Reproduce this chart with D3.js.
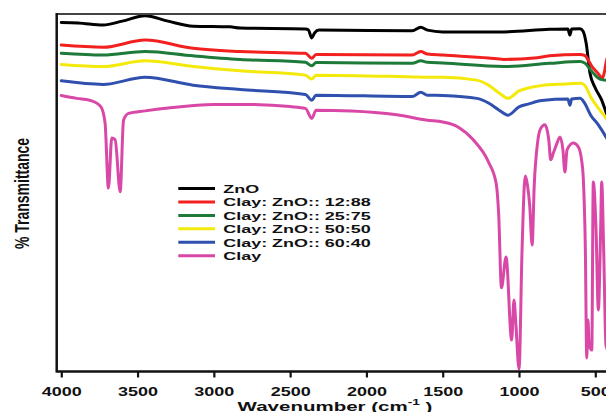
<!DOCTYPE html>
<html>
<head>
<meta charset="utf-8">
<script src="https://cdn.jsdelivr.net/npm/d3@7"></script>
<style>
  html, body { margin: 0; padding: 0; background: #fff; }
  svg { display: block; }
  text { font-family: "Liberation Sans", Arial, sans-serif; font-weight: bold; fill: #111; }
</style>
</head>
<body>
<svg id="chart" width="606" height="412"></svg>
<script>
// ---------- data ----------
const seriesNames = ["ZnO", "Clay: ZnO:: 12:88", "Clay: ZnO:: 25:75", "Clay: ZnO:: 50:50", "Clay: ZnO:: 60:40", "Clay"];
const tickValues = [4000, 3500, 3000, 2500, 2000, 1500, 1000, 500];

const znoWn = [4000,3890,3726,3600,3451,3300,3136,2894,2828,2400,2380,2358,2340,2310,1700,1644,1600,1500,1100,800,680,666,655,600,580,560,535,500,458,430,400];
const znoT  = [97.6,97.5,96.9,98.0,99.5,98.0,96.6,96.4,96.1,95.8,95.5,93.3,94.7,95.5,95.3,96.3,95.5,95.0,95.0,95.7,95.8,94.1,95.8,95.9,95.2,91.9,83.5,79.3,75.9,72.6,69.0];

const c1288Wn = [4000,3726,3451,3136,2828,2400,2358,2330,1700,1644,1600,1500,1200,1100,900,800,600,570,520,470,458,440,430,400];
const c1288T  = [91.3,90.7,92.7,90.4,89.5,89.0,87.6,88.7,88.5,89.5,88.8,88.5,87.7,87.3,87.7,88.3,88.7,88.4,85.2,82.7,81.8,83.8,86.3,89.9];

const c2575Wn = [4000,3726,3451,3136,2828,2400,2358,2330,1700,1644,1600,1500,1100,800,600,570,520,470,430,400];
const c2575T  = [89.0,88.5,89.5,88.3,87.3,86.5,85.5,86.4,86.2,86.9,86.5,86.3,85.3,86.2,86.7,86.3,83.8,81.8,81.5,81.5];

const c5050Wn = [4000,3726,3451,3136,2828,2400,2358,2330,1700,1600,1500,1277,1200,1130,1072,1000,940,850,700,600,570,530,480,430,400];
const c5050T  = [85.9,85.3,86.9,85.3,84.1,82.9,81.8,82.9,82.4,82.3,82.3,81.5,80.1,77.9,76.4,78.5,79.3,80.0,80.4,80.6,80.1,76.8,73.7,70.9,69.0];

const c6040Wn = [4000,3726,3451,3136,2828,2400,2358,2330,1700,1644,1600,1500,1277,1200,1130,1072,1000,940,850,680,666,655,600,570,530,480,430,400];
const c6040T  = [81.3,80.3,82.3,80.1,78.9,77.5,75.9,77.3,76.9,78.1,77.3,77.2,76.4,75.1,73.1,71.7,74.0,74.8,75.8,76.2,74.5,76.2,76.4,75.1,71.7,69.0,65.6,63.3];

const clayWn = [4000,3900,3800,3740,3713,3691,3669,3647,3614,3592,3559,3450,3300,3000,2800,2500,2400,2358,2330,2100,1800,1600,1500,1400,1300,1200,1150,1133,1115,1085,1048,1033,1020,1000,980,965,958,945,930,914,900,880,862,830,805,792,775,755,731,712,699,685,644,611,590,579,565,556,548,540,523,513,495,480,465,458,445,430,400];
const clayT  = [77.2,76.4,75.7,74.0,69.5,51.3,65.3,64.8,50.3,70.3,72.2,72.9,73.7,74.7,74.7,74.1,73.6,70.8,73.1,72.9,71.8,70.3,69.8,68.4,64.8,58.6,52.7,43.8,23.4,32.0,8.8,20.0,13.0,0.7,34.0,52.2,54.7,52.2,46.6,35.4,52.2,63.4,67.6,69.0,64.8,59.2,61.1,63.4,65.6,62.0,55.8,62.0,63.9,62.8,59.2,54.4,34.0,3.8,14.4,7.4,6.0,53.0,39.6,17.2,39.6,53.0,34.0,7.4,4.6];

const seriesWn = [znoWn, c1288Wn, c2575Wn, c5050Wn, c6040Wn, clayWn];
const seriesT  = [znoT, c1288T, c2575T, c5050T, c6040T, clayT];

// ---------- styles ----------
const colors = ["#000000", "#f2201e", "#1d7a38", "#f3ea0c", "#2f50ae", "#d948a6"];

// ---------- layout ----------
const svg = d3.select("#chart");
const plot = { left: 56.7, right: 611, top: 14, bottom: 371.5 };

const x = d3.scaleLinear().domain([4030, 397]).range([plot.left, plot.right]);
const y = d3.scaleLinear().domain([0, 100]).range([plot.bottom, plot.top]);

const line = d3.line()
  .x(d => x(d[0]))
  .y(d => y(d[1]))
  .curve(d3.curveMonotoneX);

// curves (black first, others above)
const g = svg.append("g");
seriesNames.forEach((name, i) => {
  const pts = d3.zip(seriesWn[i], seriesT[i]);
  g.append("path")
    .datum(pts)
    .attr("fill", "none")
    .attr("stroke", colors[i])
    .attr("stroke-width", 3)
    .attr("stroke-linejoin", "round")
    .attr("stroke-linecap", "round")
    .attr("d", line);
});

// frame
svg.append("line").attr("x1", plot.left).attr("x2", plot.right + 5).attr("y1", plot.top).attr("y2", plot.top)
  .attr("stroke", "#444").attr("stroke-width", 2);
svg.append("line").attr("x1", plot.left).attr("x2", plot.left).attr("y1", plot.top - 1).attr("y2", plot.bottom + 1)
  .attr("stroke", "#111").attr("stroke-width", 2.5);
svg.append("line").attr("x1", plot.left).attr("x2", plot.right + 5).attr("y1", plot.bottom).attr("y2", plot.bottom)
  .attr("stroke", "#111").attr("stroke-width", 2.5);

// x axis
const ax = svg.append("g")
  .attr("transform", `translate(0,${plot.bottom})`)
  .call(d3.axisBottom(x).tickValues(tickValues).tickSize(6).tickPadding(10).tickFormat(d => String(d)));
ax.select(".domain").remove();
ax.selectAll(".tick line").attr("stroke", "#111").attr("stroke-width", 2.2);
ax.selectAll(".tick text")
  .attr("font-size", 12)
  .attr("font-family", "'Liberation Sans', Arial, sans-serif")
  .attr("font-weight", "bold")
  .attr("fill", "#111")
  .attr("transform", "scale(1.5,1)");

// x title
const xt = svg.append("text")
  .attr("transform", "translate(335,410.8) scale(1.52,1)")
  .attr("text-anchor", "middle")
  .attr("font-size", 13.5);
xt.append("tspan").text("Wavenumber (cm");
xt.append("tspan").attr("font-size", 9).attr("dy", -5.5).text("-1");
xt.append("tspan").attr("dy", 5.5).text(" )");

// y title
svg.append("text")
  .attr("transform", "translate(29,193.5) scale(1.5,1) rotate(-90)")
  .attr("text-anchor", "middle")
  .attr("font-size", 14)
  .text("% Transmittance");

// legend
const leg = svg.append("g");
seriesNames.forEach((name, i) => {
  const ly = 188.5 + i * 13.45;
  leg.append("line")
    .attr("x1", 178.3).attr("x2", 215).attr("y1", ly).attr("y2", ly)
    .attr("stroke", colors[i]).attr("stroke-width", 3);
  leg.append("text")
    .attr("transform", `translate(223.3,${ly + 4.2}) scale(1.52,1)`)
    .attr("font-size", 11.8)
    .text(name);
});
</script>
</body>
</html>
